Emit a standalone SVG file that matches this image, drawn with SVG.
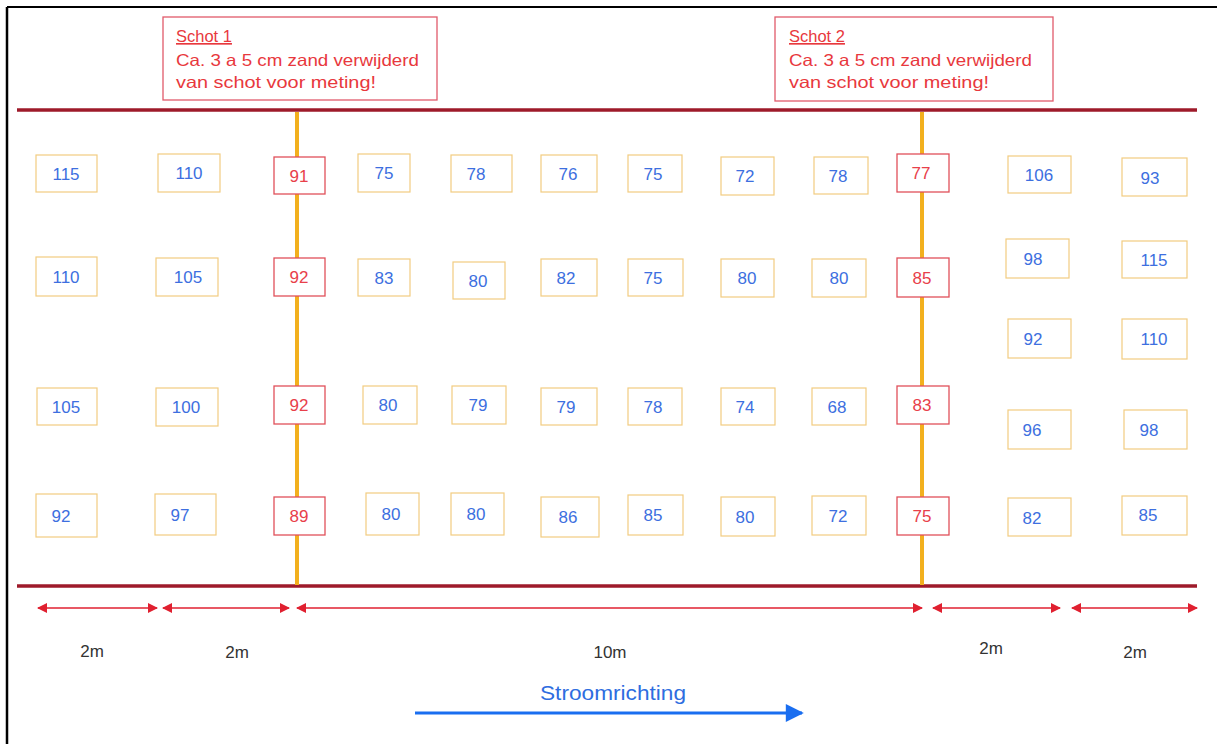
<svg xmlns="http://www.w3.org/2000/svg" width="1217" height="744" viewBox="0 0 1217 744">
<style>
.bg{fill:#ffffff}
.cell rect{fill:#ffffff;stroke:#f2cc80;stroke-width:1.2}
.cell text{fill:#3d6fe0;font-family:"Liberation Sans",Arial,sans-serif;font-size:17px;text-anchor:middle}
.schot rect{fill:#ffffff;stroke:#e0505a;stroke-width:1.3}
.schot text{fill:#e8404a;font-family:"Liberation Sans",Arial,sans-serif;font-size:17px;text-anchor:middle}
.note rect{fill:#ffffff;stroke:#e05a6a;stroke-width:1.3}
.note text{fill:#e8383d;font-family:"Liberation Sans",Arial,sans-serif;font-size:16.5px}
.bank{stroke:#9e1a2a;stroke-width:3.5;fill:none}
.wall{stroke:#f2b01e;stroke-width:4;fill:none}
.dim{stroke:#e02030;stroke-width:1.5;fill:none;marker-start:url(#ah);marker-end:url(#ah)}
.dimlbl{fill:#333333;font-family:"Liberation Sans",Arial,sans-serif;font-size:17px;text-anchor:middle}
</style>
<defs>
<marker id="ah" viewBox="0 0 10 10" refX="9" refY="5" markerWidth="12" markerHeight="10" markerUnits="userSpaceOnUse" orient="auto-start-reverse">
<path d="M0,0 L10,5 L0,10 z" fill="#e02030"/>
</marker>
<marker id="bh" viewBox="0 0 10 10" refX="9" refY="5" markerWidth="20" markerHeight="18" markerUnits="userSpaceOnUse" orient="auto">
<path d="M0,0 L10,5 L0,10 z" fill="#1a6ef0"/>
</marker>
</defs>
<rect class="bg" x="0" y="0" width="1217" height="744"/>
<g id="frame">
<line x1="7" y1="7" x2="1217" y2="7" stroke="#000" stroke-width="2"/>
<line x1="7" y1="7" x2="7" y2="744" stroke="#000" stroke-width="2.5"/>
</g>
<g id="connectors">
<line class="bank" x1="17" y1="110" x2="1197" y2="110"/>
<line class="bank" x1="17" y1="586" x2="1197" y2="586"/>
<line class="wall" x1="297" y1="112" x2="297" y2="585"/>
<line class="wall" x1="922" y1="112" x2="922" y2="585"/>
<line class="dim" x1="38" y1="608" x2="157" y2="608"/>
<line class="dim" x1="163" y1="608" x2="289" y2="608"/>
<line class="dim" x1="297" y1="608" x2="922" y2="608"/>
<line class="dim" x1="933" y1="608" x2="1060" y2="608"/>
<line class="dim" x1="1072" y1="608" x2="1197" y2="608"/>
<line x1="415" y1="713" x2="802" y2="713" stroke="#1a6ef0" stroke-width="3" marker-end="url(#bh)"/>
</g>
<g id="note1" class="note"><rect x="163" y="17" width="274" height="83"/>
<text x="176" y="42" text-decoration="underline">Schot 1</text>
<text x="176" y="66" textLength="243" lengthAdjust="spacingAndGlyphs">Ca. 3 a 5 cm zand verwijderd</text>
<text x="176" y="88" textLength="200" lengthAdjust="spacingAndGlyphs">van schot voor meting!</text></g>
<g id="note2" class="note"><rect x="775" y="17" width="278" height="84"/>
<text x="789" y="42" text-decoration="underline">Schot 2</text>
<text x="789" y="66" textLength="243" lengthAdjust="spacingAndGlyphs">Ca. 3 a 5 cm zand verwijderd</text>
<text x="789" y="88" textLength="200" lengthAdjust="spacingAndGlyphs">van schot voor meting!</text></g>

<g id="c-1-1" class="cell"><rect x="36" y="155" width="61" height="37"/><text x="66" y="180">115</text></g>
<g id="c-1-2" class="cell"><rect x="158" y="154" width="62" height="38"/><text x="189" y="179">110</text></g>
<g id="c-1-3" class="schot"><rect x="274" y="157" width="51" height="37"/><text x="299" y="182">91</text></g>
<g id="c-1-4" class="cell"><rect x="358" y="154" width="52" height="38"/><text x="384" y="179">75</text></g>
<g id="c-1-5" class="cell"><rect x="451" y="155" width="61" height="37"/><text x="476" y="180">78</text></g>
<g id="c-1-6" class="cell"><rect x="541" y="155" width="56" height="37"/><text x="568" y="180">76</text></g>
<g id="c-1-7" class="cell"><rect x="628" y="155" width="54" height="37"/><text x="653" y="180">75</text></g>
<g id="c-1-8" class="cell"><rect x="721" y="157" width="53" height="38"/><text x="745" y="182">72</text></g>
<g id="c-1-9" class="cell"><rect x="814" y="157" width="54" height="37"/><text x="838" y="182">78</text></g>
<g id="c-1-10" class="schot"><rect x="897" y="154" width="52" height="38"/><text x="921" y="179">77</text></g>
<g id="c-1-11" class="cell"><rect x="1008" y="156" width="63" height="37"/><text x="1039" y="181">106</text></g>
<g id="c-1-12" class="cell"><rect x="1122" y="158" width="65" height="38"/><text x="1150" y="184">93</text></g>

<g id="c-2-1" class="cell"><rect x="36" y="257" width="61" height="39"/><text x="66" y="283">110</text></g>
<g id="c-2-2" class="cell"><rect x="156" y="258" width="62" height="38"/><text x="188" y="283">105</text></g>
<g id="c-2-3" class="schot"><rect x="274" y="258" width="51" height="38"/><text x="299" y="283">92</text></g>
<g id="c-2-4" class="cell"><rect x="358" y="259" width="52" height="37"/><text x="384" y="284">83</text></g>
<g id="c-2-5" class="cell"><rect x="453" y="262" width="52" height="37"/><text x="478" y="287">80</text></g>
<g id="c-2-6" class="cell"><rect x="541" y="259" width="56" height="37"/><text x="566" y="284">82</text></g>
<g id="c-2-7" class="cell"><rect x="628" y="259" width="55" height="37"/><text x="653" y="284">75</text></g>
<g id="c-2-8" class="cell"><rect x="721" y="259" width="53" height="38"/><text x="747" y="284">80</text></g>
<g id="c-2-9" class="cell"><rect x="812" y="259" width="54" height="38"/><text x="839" y="284">80</text></g>
<g id="c-2-10" class="schot"><rect x="897" y="258" width="52" height="39"/><text x="922" y="284">85</text></g>
<g id="c-2-11" class="cell"><rect x="1006" y="239" width="63" height="39"/><text x="1033" y="265">98</text></g>
<g id="c-2-12" class="cell"><rect x="1122" y="241" width="65" height="37"/><text x="1154" y="266">115</text></g>

<g id="c-x-11" class="cell"><rect x="1008" y="319" width="63" height="39"/><text x="1033" y="345">92</text></g>
<g id="c-x-12" class="cell"><rect x="1122" y="319" width="65" height="40"/><text x="1154" y="345">110</text></g>

<g id="c-3-1" class="cell"><rect x="37" y="388" width="60" height="37"/><text x="66" y="413">105</text></g>
<g id="c-3-2" class="cell"><rect x="156" y="388" width="62" height="38"/><text x="186" y="413">100</text></g>
<g id="c-3-3" class="schot"><rect x="274" y="386" width="51" height="38"/><text x="299" y="411">92</text></g>
<g id="c-3-4" class="cell"><rect x="363" y="386" width="54" height="38"/><text x="388" y="411">80</text></g>
<g id="c-3-5" class="cell"><rect x="452" y="386" width="54" height="38"/><text x="478" y="411">79</text></g>
<g id="c-3-6" class="cell"><rect x="541" y="388" width="56" height="37"/><text x="566" y="413">79</text></g>
<g id="c-3-7" class="cell"><rect x="628" y="388" width="54" height="37"/><text x="653" y="413">78</text></g>
<g id="c-3-8" class="cell"><rect x="721" y="388" width="54" height="37"/><text x="745" y="413">74</text></g>
<g id="c-3-9" class="cell"><rect x="812" y="388" width="54" height="37"/><text x="837" y="413">68</text></g>
<g id="c-3-10" class="schot"><rect x="897" y="386" width="52" height="38"/><text x="922" y="411">83</text></g>
<g id="c-3-11" class="cell"><rect x="1008" y="410" width="63" height="39"/><text x="1032" y="436">96</text></g>
<g id="c-3-12" class="cell"><rect x="1124" y="410" width="63" height="39"/><text x="1149" y="436">98</text></g>

<g id="c-4-1" class="cell"><rect x="36" y="494" width="61" height="43"/><text x="61" y="522">92</text></g>
<g id="c-4-2" class="cell"><rect x="155" y="494" width="61" height="41"/><text x="180" y="521">97</text></g>
<g id="c-4-3" class="schot"><rect x="274" y="497" width="51" height="38"/><text x="299" y="522">89</text></g>
<g id="c-4-4" class="cell"><rect x="366" y="493" width="53" height="42"/><text x="391" y="520">80</text></g>
<g id="c-4-5" class="cell"><rect x="451" y="493" width="53" height="42"/><text x="476" y="520">80</text></g>
<g id="c-4-6" class="cell"><rect x="541" y="497" width="58" height="40"/><text x="568" y="523">86</text></g>
<g id="c-4-7" class="cell"><rect x="628" y="495" width="55" height="40"/><text x="653" y="521">85</text></g>
<g id="c-4-8" class="cell"><rect x="721" y="497" width="54" height="39"/><text x="745" y="523">80</text></g>
<g id="c-4-9" class="cell"><rect x="812" y="496" width="54" height="39"/><text x="838" y="522">72</text></g>
<g id="c-4-10" class="schot"><rect x="897" y="497" width="52" height="38"/><text x="922" y="522">75</text></g>
<g id="c-4-11" class="cell"><rect x="1008" y="498" width="63" height="38"/><text x="1032" y="524">82</text></g>
<g id="c-4-12" class="cell"><rect x="1122" y="496" width="65" height="39"/><text x="1148" y="521">85</text></g>

<g id="labels">
<text class="dimlbl" x="92" y="657">2m</text>
<text class="dimlbl" x="237" y="658">2m</text>
<text class="dimlbl" x="610" y="658">10m</text>
<text class="dimlbl" x="991" y="654">2m</text>
<text class="dimlbl" x="1135" y="658">2m</text>
<text x="613" y="700" fill="#2e6de0" font-family="'Liberation Sans',Arial,sans-serif" font-size="21" text-anchor="middle" textLength="146" lengthAdjust="spacingAndGlyphs">Stroomrichting</text>
</g>
</svg>
